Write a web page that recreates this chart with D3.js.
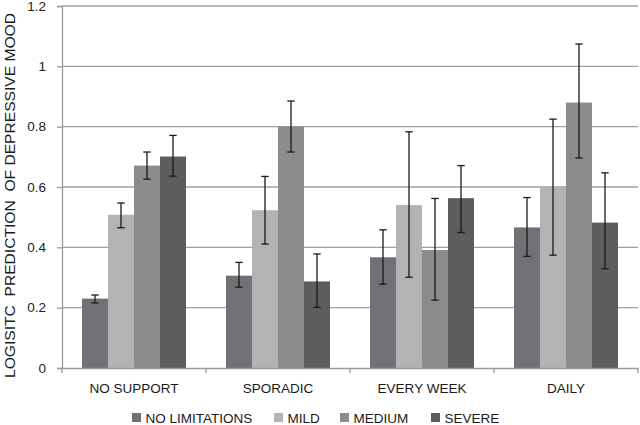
<!DOCTYPE html>
<html>
<head>
<meta charset="utf-8">
<script src="https://cdn.jsdelivr.net/npm/d3@7"></script>
<style>
  body { margin: 0; background: #fff; }
  svg { display: block; font-family: "Liberation Sans", Arial, sans-serif; }
</style>
</head>
<body>
<div id="chart"></div>
<script>
const categories = ["NO SUPPORT", "SPORADIC", "EVERY WEEK", "DAILY"];
const series = ["NO LIMITATIONS", "MILD", "MEDIUM", "SEVERE"];
const yTicks = [0, 0.2, 0.4, 0.6, 0.8, 1, 1.2];

// predicted values, one array per series (in category order)
const noLimitations = [0.23, 0.306, 0.367, 0.466];
const mild = [0.508, 0.523, 0.54, 0.602];
const medium = [0.671, 0.80, 0.391, 0.88];
const severe = [0.701, 0.287, 0.563, 0.482];

// error bar ends
const noLimitationsLow = [0.216, 0.268, 0.278, 0.370];
const noLimitationsHigh = [0.242, 0.35, 0.458, 0.565];
const mildLow = [0.465, 0.411, 0.301, 0.374];
const mildHigh = [0.547, 0.635, 0.783, 0.825];
const mediumLow = [0.626, 0.716, 0.225, 0.696];
const mediumHigh = [0.716, 0.885, 0.562, 1.074];
const severeLow = [0.636, 0.201, 0.449, 0.329];
const severeHigh = [0.771, 0.378, 0.671, 0.647];

const colors = ["#707174", "#b2b3b5", "#8b8c8e", "#5c5d5f"];

const width = 640, height = 425;
const mLeft = 62, mRight = 638, mTop = 6, mBottom = 368;

const svg = d3.select("#chart").append("svg")
  .attr("width", width)
  .attr("height", height);

const values = [noLimitations, mild, medium, severe];
const lows = [noLimitationsLow, mildLow, mediumLow, severeLow];
const highs = [noLimitationsHigh, mildHigh, mediumHigh, severeHigh];

const rows = [];
series.forEach((s, i) => {
  categories.forEach((c, j) => {
    rows.push({ cat: c, ser: s, idx: i, v: values[i][j], lo: lows[i][j], hi: highs[i][j] });
  });
});

const x0 = d3.scaleBand().domain(categories).range([mLeft, mRight]);
const x1 = d3.scaleBand().domain(series).range([20, x0.bandwidth() - 20]);
const y = d3.scaleLinear().domain([0, 1.2]).range([mBottom, mTop]);

// gridlines
svg.append("g")
  .selectAll("line")
  .data(yTicks.filter(d => d > 0))
  .join("line")
  .attr("x1", mLeft)
  .attr("x2", mRight)
  .attr("y1", d => y(d))
  .attr("y2", d => y(d))
  .attr("stroke", "#a0a0a0")
  .attr("stroke-width", 1.3);

// y axis
const yAxis = svg.append("g")
  .attr("transform", `translate(${mLeft},0)`)
  .call(d3.axisLeft(y).tickValues(yTicks).tickFormat(d3.format("~g")).tickSize(5).tickPadding(11));
yAxis.select(".domain").attr("stroke", "#9a9a9a").attr("stroke-width", 1.3);
yAxis.selectAll(".tick line").attr("stroke", "#9a9a9a").attr("stroke-width", 1.3);
yAxis.selectAll("text").attr("font-size", 13.5).attr("fill", "#222").attr("font-family", "Liberation Sans, Arial, sans-serif");

// bars
svg.append("g")
  .selectAll("rect")
  .data(rows)
  .join("rect")
  .attr("x", d => x0(d.cat) + x1(d.ser))
  .attr("width", x1.bandwidth())
  .attr("y", d => y(d.v))
  .attr("height", d => y(0) - y(d.v))
  .attr("fill", d => colors[d.idx]);

// error bars
const err = svg.append("g").attr("stroke", "#1a1a1a").attr("stroke-width", 1.3);
const cx = d => x0(d.cat) + x1(d.ser) + x1.bandwidth() / 2;
err.selectAll("line.v").data(rows).join("line").attr("class", "v")
  .attr("x1", cx).attr("x2", cx)
  .attr("y1", d => y(d.lo)).attr("y2", d => y(d.hi));
err.selectAll("line.t").data(rows).join("line").attr("class", "t")
  .attr("x1", d => cx(d) - 3.7).attr("x2", d => cx(d) + 3.7)
  .attr("y1", d => y(d.hi)).attr("y2", d => y(d.hi));
err.selectAll("line.b").data(rows).join("line").attr("class", "b")
  .attr("x1", d => cx(d) - 3.7).attr("x2", d => cx(d) + 3.7)
  .attr("y1", d => y(d.lo)).attr("y2", d => y(d.lo));

// x axis
const xAxis = svg.append("g")
  .attr("transform", `translate(0,${mBottom})`)
  .call(d3.axisBottom(x0).tickSize(0).tickPadding(15.5));
xAxis.select(".domain").attr("stroke", "#9a9a9a").attr("stroke-width", 1.3);
xAxis.selectAll("text").attr("font-size", 13.5).attr("fill", "#1a1a1a").attr("font-family", "Liberation Sans, Arial, sans-serif");
xAxis.selectAll("line.sep")
  .data(d3.range(categories.length + 1))
  .join("line")
  .attr("class", "sep")
  .attr("x1", i => mLeft + i * x0.step())
  .attr("x2", i => mLeft + i * x0.step())
  .attr("y1", 0)
  .attr("y2", 5)
  .attr("stroke", "#9a9a9a")
  .attr("stroke-width", 1.3);

// y title
svg.append("text")
  .attr("transform", `translate(15,195.5) rotate(-90)`)
  .attr("text-anchor", "middle")
  .attr("font-size", 15.5)
  .attr("fill", "#1a1a1a")
  .attr("xml:space", "preserve")
  .attr("textLength", 365)
  .attr("lengthAdjust", "spacingAndGlyphs")
  .text("LOGISITC  PREDICTION  OF DEPRESSIVE MOOD");

// legend
const legendX = [132, 274, 340, 431];
const legend = svg.append("g")
  .selectAll("g")
  .data(series)
  .join("g")
  .attr("transform", (d, i) => `translate(${legendX[i]},413)`);
legend.append("rect")
  .attr("width", 9)
  .attr("height", 9)
  .attr("fill", (d, i) => colors[i]);
legend.append("text")
  .attr("x", 13.5)
  .attr("y", 10)
  .attr("font-size", 13.5)
  .attr("fill", "#1a1a1a")
  .text(d => d);
</script>
</body>
</html>
